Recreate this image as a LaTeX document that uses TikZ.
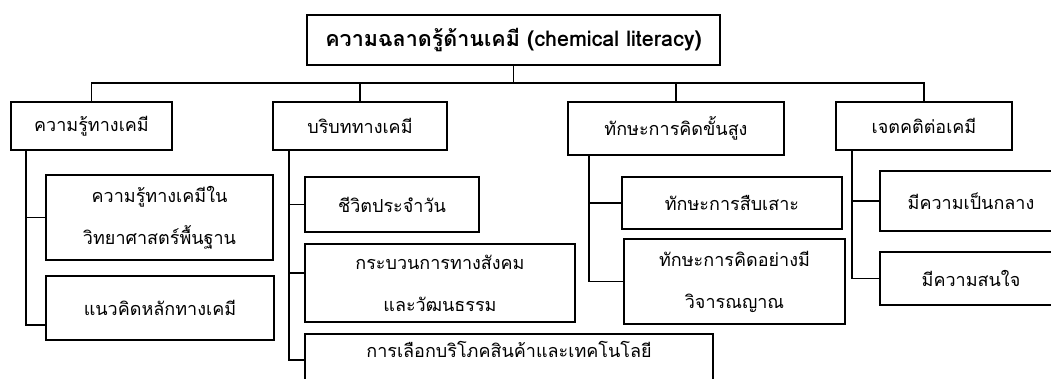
\documentclass[tikz,border=0pt]{standalone}
\usepackage{fontspec}
\setmainfont[Script=Thai]{Loma}
\begin{document}
\begin{tikzpicture}[x=1pt,y=-1pt,
  box/.style={draw=black,line width=1.9pt,fill=white,inner sep=0pt,align=center,
    font=\fontsize{18}{42}\selectfont},
  conn/.style={draw=black,line width=1.9pt}]
\useasboundingbox (0,0) rectangle (1051,378);
\clip (0,0) rectangle (1051,378);
\fill[white] (0,0) rectangle (1051,378);
% top
\node[box,font=\bfseries\fontsize{21.5}{42}\selectfont,minimum width=413pt,minimum height=50pt] (top) at (513.5,40) {ความฉลาดรู้ด้านเคมี (chemical literacy)};
% level 1
\node[box,minimum width=161pt,minimum height=48pt] (a) at (91.5,126) {ความรู้ทางเคมี};
\node[box,minimum width=174pt,minimum height=48pt] (b) at (360,126) {บริบททางเคมี};
\node[box,minimum width=216pt,minimum height=53pt] (c) at (676,128.5) {ทักษะการคิดขั้นสูง};
\node[box,minimum width=176pt,minimum height=48pt] (d) at (924,126) {เจตคติต่อเคมี};
% level 2
\node[box,minimum width=227pt,minimum height=85pt] (a1) at (159.5,217.5) {ความรู้ทางเคมีใน\\วิทยาศาสตร์พื้นฐาน};
\node[box,minimum width=228pt,minimum height=64pt] (a2) at (160,308) {แนวคิดหลักทางเคมี};
\node[box,minimum width=174pt,minimum height=55pt] (b1) at (392,204.5) {ชีวิตประจำวัน};
\node[box,minimum width=270pt,minimum height=78pt] (b2) at (440,283) {กระบวนการทางสังคม\\และวัฒนธรรม};
\node[box,minimum width=408pt,anchor=north,inner ysep=12pt,text height=12pt,text depth=32pt] (b3) at (509,333) {การเลือกบริโภคสินค้าและเทคโนโลยี};
\node[box,minimum width=220pt,minimum height=52pt] (c1) at (732,203) {ทักษะการสืบเสาะ};
\node[box,minimum width=221pt,minimum height=85pt] (c2) at (734.5,281.5) {ทักษะการคิดอย่างมี\\วิจารณญาณ};
\node[box,minimum width=182pt,minimum height=60pt] (d1) at (971,201) {มีความเป็นกลาง};
\node[box,minimum width=182pt,minimum height=53pt] (d2) at (971,278.5) {มีความสนใจ};
% bus
\coordinate (bus) at (0,83);
\draw[conn] (top.south) -- (top.south |- bus);
\draw[conn] (a.north) -- (a.north |- bus) -- (d.north |- bus) -- (d.north);
\draw[conn] (b.north) -- (b.north |- bus);
\draw[conn] (c.north) -- (c.north |- bus);
% trunks
\coordinate (ta) at ([xshift=16pt]a.south west);
\coordinate (tb) at ([xshift=17pt]b.south west);
\coordinate (tc) at ([xshift=22pt]c.south west);
\coordinate (td) at ([xshift=17pt]d.south west);
\draw[conn] (ta) |- (a1.west);
\draw[conn] (ta) |- ([yshift=-17pt]a2.west);
\draw[conn] (tb) |- (b1.west);
\draw[conn] (tb) |- ([yshift=10pt]b2.west);
\draw[conn] (tb) |- ([yshift=8pt]b3.west);
\draw[conn] (tc) |- (c1.west);
\draw[conn] (tc) |- (c2.west);
\draw[conn] (td) |- (d1.west);
\draw[conn] (td) |- (d2.west);
\end{tikzpicture}
\end{document}
